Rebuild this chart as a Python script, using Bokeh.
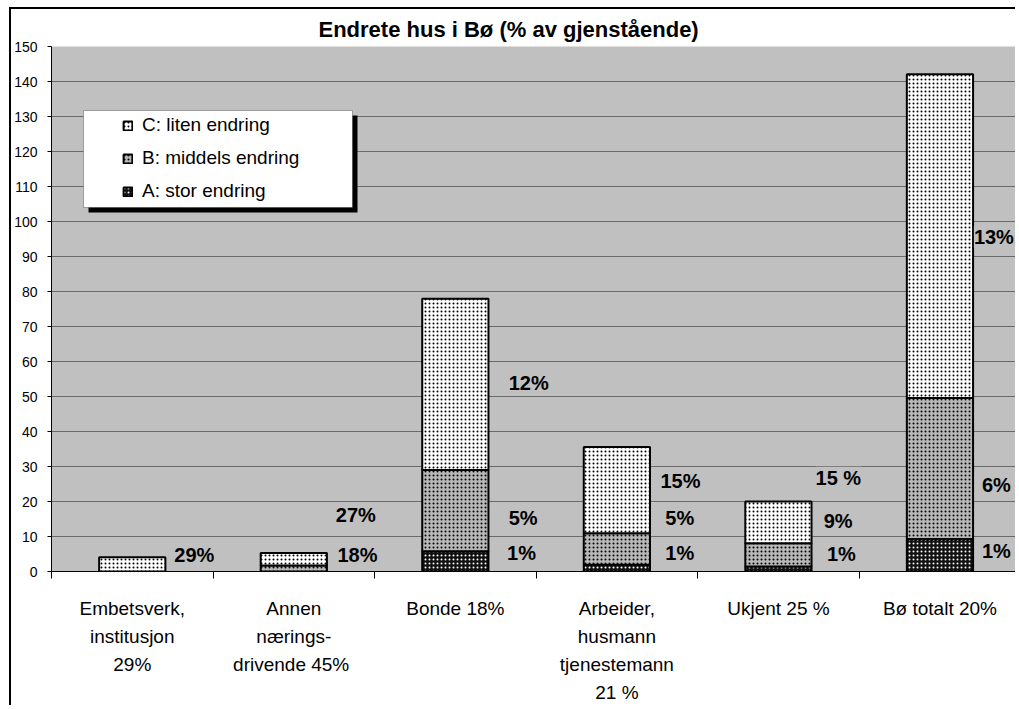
from bokeh.plotting import figure
from bokeh.models import (Range1d, FixedTicker, SingleIntervalTicker, ColumnDataSource,
                          LabelSet, Legend, LegendItem, BoxAnnotation)
from bokeh.core.properties import value
from bokeh.embed import file_html
from bokeh.resources import INLINE

# ---------------- data ----------------
categories = ["Embetsverk,\ninstitusjon\n29%",
              "Annen\nnærings-\ndrivende  45%",
              "Bonde 18%",
              "Arbeider,\nhusmann\ntjenestemann\n21 %",
              "Ukjent 25 %",
              "Bø totalt 20%"]
series_names = ["A: stor endring", "B: middels endring", "C: liten endring"]
a_stor = [0, 0, 5.8, 1.9, 1.4, 9.3]
b_middels = [0, 1.7, 23.2, 9.0, 6.7, 40.3]
c_liten = [4.1, 3.6, 48.9, 24.7, 11.9, 92.5]

# data labels (text, category index)
label_text = ["29%", "27%", "18%", "12%", "5%", "1%", "15%", "5%", "1%",
              "15 %", "9%", "1%", "13%", "6%", "1%"]
label_cat = [0, 1, 1, 2, 2, 2, 3, 3, 3, 4, 4, 4, 5, 5, 5]
# placement of the labels (offset from category centre, and height)
label_dx = [0.26, 0.26, 0.27, 0.33, 0.33, 0.32, 0.27, 0.30, 0.30,
            0.23, 0.28, 0.30, 0.21, 0.26, 0.26]
label_y = [4.8, 16.2, 4.8, 53.8, 15.4, 5.4, 25.9, 15.4, 5.4,
           26.8, 14.5, 5.1, 95.5, 24.8, 6.0]

FONT = "Liberation Sans"

x_idx = list(range(len(categories)))
src = ColumnDataSource(dict(x=x_idx, A=a_stor, B=b_middels, C=c_liten))

p = figure(width=1006, height=698, output_backend="svg", toolbar_location=None,
           x_range=Range1d(-0.5, 5.48), y_range=Range1d(0, 150),
           min_border_left=40, min_border_top=35, min_border_right=0, min_border_bottom=136,
           background_fill_color="#c0c0c0", border_fill_color="white",
           styles={"margin-left": "9px", "margin-top": "7px",
                   "border-left": "2px solid black", "border-top": "2px solid black"})
p.outline_line_color = None

# title
p.title.text = "Endrete hus i Bø (% av gjenstående)"
p.title.text_font = FONT
p.title.text_font_style = "bold"
p.title.text_font_size = "22px"
p.title.text_color = "black"
p.title.align = "left"
p.title.offset = 267

# grid
p.xgrid.visible = False
p.ygrid.grid_line_color = "#6a6a6a"
p.ygrid.grid_line_width = 1
p.ygrid.ticker = SingleIntervalTicker(interval=10)

# y axis
p.yaxis.ticker = SingleIntervalTicker(interval=10, num_minor_ticks=0)
p.yaxis.axis_line_color = "black"
p.yaxis.major_tick_line_color = "black"
p.yaxis.major_tick_out = 4
p.yaxis.major_tick_in = 0
p.yaxis.minor_tick_line_color = None
p.yaxis.major_label_text_font = FONT
p.yaxis.major_label_text_font_size = "14px"
p.yaxis.major_label_text_color = "black"
p.yaxis.major_label_standoff = 10

# x axis
p.xaxis.ticker = FixedTicker(ticks=x_idx, minor_ticks=[i - 0.5 for i in range(len(categories) + 1)])
p.xaxis.major_label_overrides = {i: c for i, c in zip(x_idx, categories)}
p.xaxis.axis_line_color = "black"
p.xaxis.major_tick_out = 0
p.xaxis.major_tick_in = 0
p.xaxis.minor_tick_line_color = "black"
p.xaxis.minor_tick_out = 7
p.xaxis.minor_tick_in = 0
p.xaxis.major_label_text_font = FONT
p.xaxis.major_label_text_font_size = "19px"
p.xaxis.major_label_text_color = "black"
p.xaxis.major_label_text_line_height = 1.34
p.xaxis.major_label_standoff = 19

# legend frame and shadow (screen units relative to the plot frame)
shadow = BoxAnnotation(left=37, right=306, top=456, bottom=359,
                       left_units="screen", right_units="screen",
                       top_units="screen", bottom_units="screen",
                       fill_color="black", fill_alpha=1, line_color=None)
box = BoxAnnotation(left=32, right=301, top=461, bottom=364,
                    left_units="screen", right_units="screen",
                    top_units="screen", bottom_units="screen",
                    fill_color="white", fill_alpha=1, line_color="black", line_width=1)
p.add_layout(shadow)
p.add_layout(box)

# bars
rs = p.vbar_stack(["A", "B", "C"], x="x", width=0.41, source=src,
                  fill_color=["#111111", "#b8b8b8", "white"],
                  hatch_pattern=["dot", "dot", "dot"],
                  hatch_color=["white", "black", "black"],
                  hatch_scale=[4, 4, 4],
                  hatch_weight=[1, 1, 1],
                  line_color="black", line_width=2)

legend = Legend(items=[LegendItem(label=series_names[2], renderers=[rs[2]]),
                       LegendItem(label=series_names[1], renderers=[rs[1]]),
                       LegendItem(label=series_names[0], renderers=[rs[0]])],
                location=(71, 369), padding=0, margin=0, spacing=11,
                glyph_width=11, glyph_height=11, label_standoff=9, label_height=22,
                label_text_font=FONT, label_text_font_size="19px", label_text_color="black",
                background_fill_alpha=0, border_line_alpha=0)
p.add_layout(legend)

lsrc = ColumnDataSource(dict(x=[c + d for c, d in zip(label_cat, label_dx)],
                             y=label_y, text=label_text))
labels = LabelSet(x="x", y="y", text="text", source=lsrc,
                  text_align="left", text_baseline="middle",
                  text_font=value(FONT), text_font_style="bold", text_font_size="20px",
                  text_color="black",
                  background_fill_color="#c0c0c0", background_fill_alpha=1)
p.add_layout(labels)

open("out.html", "w").write(file_html(p, INLINE))
